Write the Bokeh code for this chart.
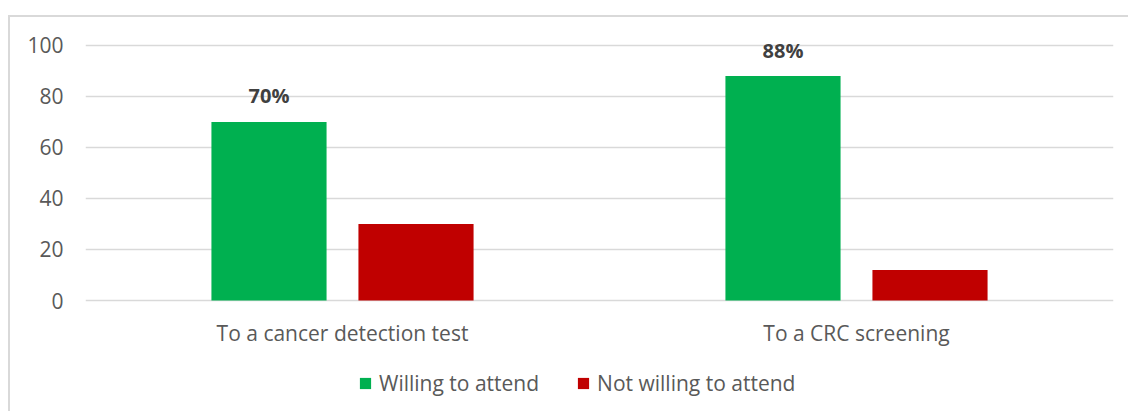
from bokeh.plotting import figure
from bokeh.models import (ColumnDataSource, FactorRange, Range1d, FixedTicker,
                          Legend, LegendItem)
from bokeh.transform import dodge
from bokeh.core.properties import value
from bokeh.embed import file_html
from bokeh.resources import INLINE

categories = ["To a cancer detection test", "To a CRC screening"]
series = ["Willing to attend", "Not willing to attend"]
willing = [70, 88]
not_willing = [30, 12]
labels = ["70%", "88%"]
colors = ["#00B050", "#C00000"]
y_ticks = [0, 20, 40, 60, 80, 100]

FONT = "Open Sans"
TXT = "#595959"

src = ColumnDataSource(dict(cat=categories, willing=willing,
                            not_willing=not_willing, label=labels))

p = figure(x_range=FactorRange(factors=categories), y_range=Range1d(-44.3, 103.9),
           width=1120, height=396, output_backend="svg", toolbar_location=None,
           min_border_left=75, min_border_right=17, min_border_top=18,
           min_border_bottom=0)
p.styles = {"margin-left": "8px", "margin-top": "15px",
            "border-left": "2px solid #d9d9d9", "border-top": "2px solid #d9d9d9"}

r1 = p.vbar(x=dodge("cat", -0.143, range=p.x_range), top="willing", width=0.224,
            source=src, fill_color=colors[0], line_color=None)
r2 = p.vbar(x=dodge("cat", 0.143, range=p.x_range), top="not_willing", width=0.224,
            source=src, fill_color=colors[1], line_color=None)

p.text(x=dodge("cat", -0.143, range=p.x_range), y="willing", text="label", source=src,
       text_font=value(FONT), text_font_style="bold", text_font_size="20px",
       text_color="#404040", text_align="center", text_baseline="alphabetic",
       y_offset=-26)

p.outline_line_color = None
p.background_fill_color = "white"
p.border_fill_color = "white"
p.xgrid.visible = False
p.ygrid.grid_line_color = "#d9d9d9"
p.ygrid.grid_line_width = 1.5

p.yaxis.ticker = FixedTicker(ticks=y_ticks)
p.xaxis.fixed_location = 0
for ax in (p.xaxis[0], p.yaxis[0]):
    ax.axis_line_color = None
    ax.major_tick_line_color = None
    ax.minor_tick_line_color = None
    ax.major_tick_out = 0
    ax.major_tick_in = 0
    ax.major_label_text_font = FONT
    ax.major_label_text_font_size = "21px"
    ax.major_label_text_color = TXT
p.yaxis.major_label_standoff = 22
p.xaxis.major_label_standoff = 18

legend = Legend(items=[LegendItem(label=series[0], renderers=[r1]),
                       LegendItem(label=series[1], renderers=[r2])],
                orientation="horizontal", location=(273, 16), padding=0, margin=0,
                spacing=37, glyph_width=14, glyph_height=14, label_standoff=7,
                label_text_font=FONT, label_text_font_size="21px",
                label_text_color=TXT, border_line_color=None,
                background_fill_alpha=0)
p.add_layout(legend)

open("out.html", "w").write(file_html(p, INLINE))
